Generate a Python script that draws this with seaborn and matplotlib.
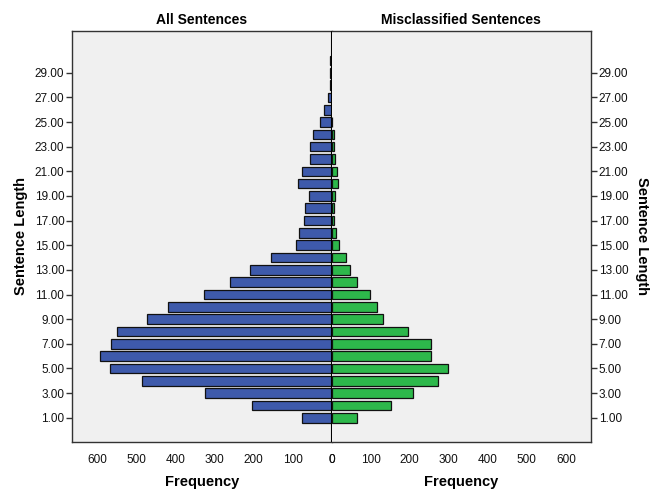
import numpy as np
import matplotlib
matplotlib.use("Agg")
import matplotlib.pyplot as plt
import seaborn as sns

# sentence lengths 1..30
lengths = list(range(1, 31))
all_freq = [75, 204, 323, 485, 568, 592, 566, 550, 472, 418,
            327, 261, 209, 154, 91, 83, 71, 69, 57, 87,
            76, 56, 56, 47, 30, 19, 9, 4, 3, 4]
mis_freq = [64, 153, 208, 273, 297, 255, 255, 196, 131, 116,
            99, 66, 48, 36, 20, 12, 7, 7, 8, 17,
            13, 8, 6, 6, 2, 0, 0, 0, 0, 0]

x_ticks = [0, 100, 200, 300, 400, 500, 600]
y_ticks = list(range(1, 30, 2))

sns.set_style("white")
plt.rcParams['font.family'] = ['Liberation Sans', 'DejaVu Sans']
plt.rcParams['text.color'] = 'black'
plt.rcParams['axes.labelcolor'] = 'black'

fig = plt.figure(figsize=(6.54, 4.9), dpi=100)
ax_l = fig.add_axes([0.110, 0.098, 0.397, 0.839])
ax_r = fig.add_axes([0.507, 0.098, 0.397, 0.839])

bg = "#f0f0f0"
blue = "#3e5aab"
green = "#2db84b"

sns.barplot(x=all_freq, y=lengths, orient="y", native_scale=True, width=0.78,
            color=blue, edgecolor="#111111", linewidth=0.9, saturation=1, ax=ax_l)
sns.barplot(x=mis_freq, y=lengths, orient="y", native_scale=True, width=0.78,
            color=green, edgecolor="#111111", linewidth=0.9, saturation=1, ax=ax_r)

# hide empty bars so their outlines don't show
for ax in (ax_l, ax_r):
    for p in ax.patches:
        if p.get_width() == 0:
            p.set_visible(False)

for ax in (ax_l, ax_r):
    ax.set_facecolor(bg)
    ax.set_ylim(-0.97, 32.4)
    ax.set_yticks(y_ticks)
    ax.set_yticklabels([f"{v:.2f}" for v in y_ticks])
    ax.set_xticks(x_ticks)
    ax.set_xticklabels([str(v) for v in x_ticks])
    ax.tick_params(axis="both", labelsize=8.5, length=4, width=1,
                   color="#333333", labelcolor="#111111", pad=1.5)
    ax.tick_params(axis="x", pad=5)
    for s in ax.spines.values():
        s.set_color("#333333")
        s.set_linewidth(1)
    ax.set_xlabel("Frequency", fontsize=10.5, fontweight="bold", labelpad=6)

ax_l.set_xlim(665, 0)
ax_r.set_xlim(0, 665)

ax_l.spines["right"].set_visible(False)
ax_r.spines["left"].set_visible(False)
ax_l.axvline(0, color="black", linewidth=1.5, zorder=5)

ax_l.yaxis.tick_left()
ax_l.set_ylabel("Sentence Length", fontsize=10.5, fontweight="bold", labelpad=5)
ax_r.yaxis.tick_right()
ax_r.yaxis.set_label_position("right")
ax_r.set_ylabel("Sentence Length", fontsize=10.5, fontweight="bold",
                rotation=-90, labelpad=15)

ax_l.set_title("All Sentences", fontsize=10, fontweight="bold", pad=5)
ax_r.set_title("Misclassified Sentences", fontsize=10, fontweight="bold", pad=5)

fig.savefig("out.png", dpi=100)
